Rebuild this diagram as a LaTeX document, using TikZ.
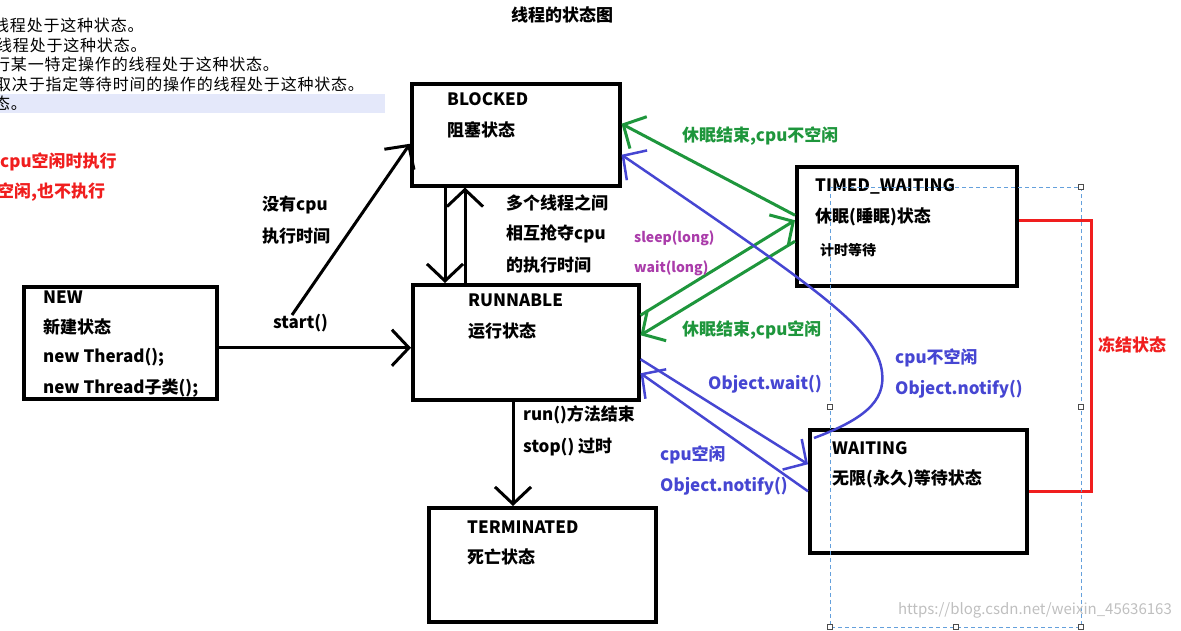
\documentclass[tikz,border=0pt]{standalone}
\usepackage{fontspec}
\setmainfont{Noto Sans CJK SC}
\usepackage{tikz}
\usetikzlibrary{arrows.meta}
\usetikzlibrary{positioning}
\definecolor{verde}{RGB}{30,150,60}
\definecolor{blu}{RGB}{70,70,210}
\definecolor{viola}{RGB}{170,60,170}
\definecolor{rosso}{RGB}{240,30,30}
\definecolor{selez}{RGB}{100,160,220}
\definecolor{fascia}{RGB}{228,232,250}

\begin{document}
\begin{tikzpicture}[x=1pt,y=-1pt,
		stbox/.style={draw,line width=3.5pt,anchor=north west,inner sep=0pt},
		txt/.style={anchor=west,inner sep=0pt,font=\bfseries\fontsize{17}{20}\selectfont},
		small/.style={anchor=west,inner sep=0pt,font=\bfseries\fontsize{14}{16}\selectfont},
		note/.style={anchor=west,inner sep=0pt,font=\fontsize{16}{18}\selectfont\addfontfeature{LetterSpace=5}},
		barb/.style={-{Straight Barb[length=17pt,width=36pt]}},
		nero/.style={barb,line width=3pt},
		verdefr/.style={barb,line width=3pt,draw=verde},
		blufr/.style={barb,line width=2.5pt,draw=blu},
		maniglia/.style={draw=black!70,fill=white,line width=0.8pt,minimum size=5pt,inner sep=0pt}]
		\useasboundingbox (0,0) rectangle (1181,630);
		% testo tagliato in alto a sinistra
		\fill[fascia] (0,94) rectangle (385,113);
		\node[note] (n0) at (-9,4) {。};
		\node[note] (n1) at (-7,25) {线程处于这种状态。};
		\node[note] (n2) at (-4,45) {线程处于这种状态。};
		\node[note] (n3) at (-6,64) {行某一特定操作的线程处于这种状态。};
		\node[note] (n4) at (-5,84) {取决于指定等待时间的操作的线程处于这种状态。};
		\node[note] (n5) at (-6,103) {态。};
		\node[txt,text=rosso] (r1) at (0,162) {cpu空闲时执行};
		\node[txt,text=rosso] (r2) at (-3,192) {空闲,也不执行};
		\node[txt,anchor=center] (titolo) at (562,15) {线程的状态图};
		% stati
		\node[stbox,minimum width=208pt,minimum height=102pt] (blocked) at (410,82) {};
		\node[stbox,minimum width=226pt,minimum height=115pt] (runnable) at (411,283) {};
		\node[stbox,minimum width=193pt,minimum height=112pt] (new) at (22,285) {};
		\node[stbox,minimum width=227pt,minimum height=114pt] (terminated) at (427,506) {};
		\node[stbox,minimum width=220pt,minimum height=119pt] (timed) at (795,165) {};
		\node[stbox,minimum width=217pt,minimum height=123pt] (waiting) at (808,428) {};
		\node[txt] (b1) at (447,99) {BLOCKED};
		\node[txt] (b2) at (447,130) {阻塞状态};
		\node[txt] (u1) at (468,300) {RUNNABLE};
		\node[txt] (u2) at (468,331) {运行状态};
		\node[txt] (w1) at (43,297) {NEW};
		\node[txt] (w2) at (43,327) {新建状态};
		\node[txt] (w3) at (43,357) {new Therad();};
		\node[txt] (w4) at (43,388) {new Thread子类();};
		\node[txt] (t1) at (467,527) {TERMINATED};
		\node[txt] (t2) at (467,557) {死亡状态};
		\node[txt] (s1) at (815,186) {TIMED\_WAITING};
		\node[txt] (s2) at (815,217) {休眠(睡眠)状态};
		\node[small] (s3) at (820,250) {计时等待};
		\node[txt] (a1) at (832,448) {WAITING};
		\node[txt] (a2) at (832,479) {无限(永久)等待状态};
		% passaggi neri
		\coordinate (nb) at (292,315);
		\draw[nero] ([yshift=-5pt]new.east) -- ([yshift=-5pt]new.east -| runnable.west);
		\draw[nero] (nb) -- ([yshift=-9pt]blocked.west);
		\draw[nero] ([xshift=35pt]blocked.south west) -- ([xshift=35pt]blocked.south west |- runnable.north);
		\draw[nero] ([xshift=55pt]blocked.south west |- runnable.north) -- ([xshift=55pt]blocked.south west);
		\draw[nero] ([xshift=102pt]runnable.south west) -- ([xshift=102pt]runnable.south west |- terminated.north);
		\node[txt] (l1) at (273,323) {start()};
		\node[txt] (l2) at (262,205) {没有cpu};
		\node[txt] (l3) at (262,236) {执行时间};
		\node[txt] (l4) at (506,203) {多个线程之间};
		\node[txt] (l5) at (506,234) {相互抢夺cpu};
		\node[txt] (l6) at (506,265) {的执行时间};
		\node[txt] (l7) at (523,415) {run()方法结束};
		\node[txt] (l8) at (523,447) {stop() 过时};
		% passaggi verdi
		\draw[verdefr] ([yshift=11pt]timed.west) -- ([yshift=11pt]blocked.east);
		\draw[verdefr] ([yshift=27pt]runnable.east) -- ([yshift=6pt]timed.west);
		\draw[verdefr] ([yshift=-15pt]timed.west) -- ([yshift=7pt]runnable.east);
		\node[txt,text=verde] (g1) at (682,136) {休眠结束,cpu不空闲};
		\node[txt,text=verde] (g2) at (682,330) {休眠结束,cpu空闲};
		\node[small,text=viola] (p1) at (634,238) {sleep(long)};
		\node[small,text=viola] (p2) at (634,268) {wait(long)};
		% passaggi blu
		\draw[blufr] ([yshift=-17pt]runnable.east) -- ([yshift=27pt]waiting.west);
		\draw[blufr] (waiting.west) -- ([yshift=-31pt]runnable.east);
		\draw[blufr] ([xshift=6pt,yshift=-10pt]waiting.north west) .. controls (862,420) and (886,402) .. (882,372)
			.. controls (877,330) and (820,290) .. ([yshift=-20pt]blocked.east);
		\node[txt,text=blu] (o1) at (708,384) {Object.wait()};
		\node[txt,text=blu] (o2) at (660,455) {cpu空闲};
		\node[txt,text=blu] (o3) at (660,486) {Object.notify()};
		\node[txt,text=blu] (o4) at (895,358) {cpu不空闲};
		\node[txt,text=blu] (o5) at (895,389) {Object.notify()};
		% stato congelato
		\draw[rosso,line width=3.5pt] ([yshift=6pt]timed.east) -- ++(73,0) |- (waiting.east);
		\node[txt,text=rosso] (cong) at (1098,345) {冻结状态};
		% selezione tratteggiata
		\draw[selez,line width=1pt,dash pattern=on 4pt off 3pt] (830,187) rectangle (1081,627);
		\foreach \p in {(1081,187),(830,407),(1081,407),(830,627),(956,627),(1081,627)}
			\node[maniglia] at \p {};
		\node[anchor=east,inner sep=0pt,text=black!25,font=\fontsize{15}{17}\selectfont] (wm) at (1172,610) {https://blog.csdn.net/weixin\_45636163};
	\end{tikzpicture}
\end{document}
